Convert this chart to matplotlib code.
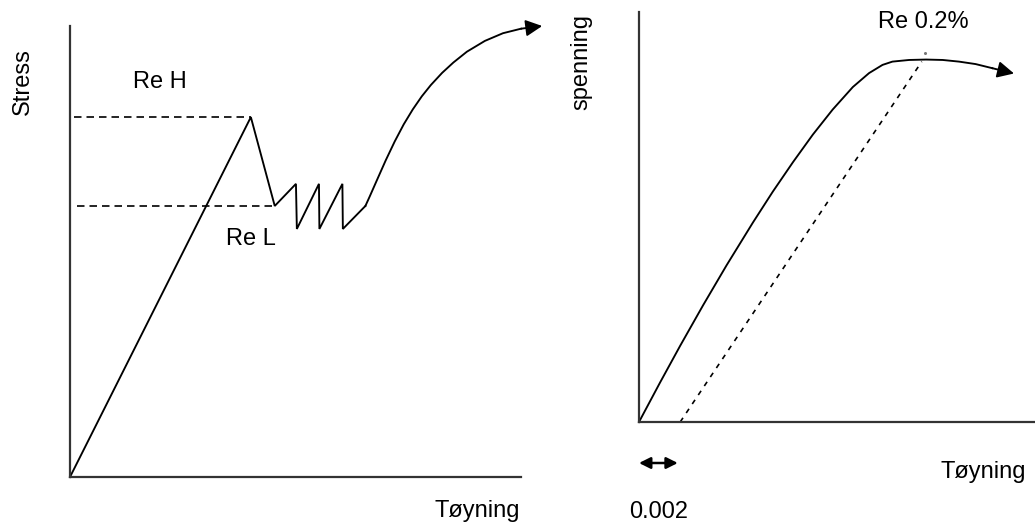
import matplotlib
matplotlib.use("Agg")
import matplotlib.pyplot as plt

plt.rcParams['font.family'] = ['Liberation Sans', 'DejaVu Sans']

W, H = 1035, 524

# ---- Left panel data (strain, stress), axis units 0..100 ----
left_strain = [0, 40.1, 45.4, 50.1, 50.3, 55.2, 55.3, 60.4, 60.5, 65.5]
left_stress = [0, 79.8, 60.1, 65.0, 55.0, 65.0, 55.0, 65.0, 55.0, 60.1]
# hardening curve after the yield plateau
hard_strain = [65.5, 66.5, 68.0, 70.0, 72.0, 74.0, 76.0, 78.0, 80.0, 82.5, 85.0, 88.0, 92.0, 96.0, 100.0, 104.7]
hard_stress = [60.1, 62.3, 65.7, 70.2, 74.4, 78.2, 81.5, 84.4, 86.9, 89.6, 91.9, 94.3, 96.7, 98.4, 99.4, 100.0]
ReH = 79.8
ReL = 60.1
ReH_strain = 40.1
ReL_strain = 45.4

# ---- Right panel data ----
right_strain = [0, 5.3, 10.4, 16.2, 22.1, 28.8, 33.8, 38.9, 43.9, 48.9, 54.0, 58.1, 61.5, 64.0,
                68.2, 72.5, 76.7, 80.8, 85.0, 89.2, 94.7]
right_stress = [0, 9.6, 18.6, 28.5, 38.2, 48.7, 56.2, 63.4, 70.1, 76.2, 81.7, 85.1, 87.1, 87.9,
                88.3, 88.4, 88.3, 87.9, 87.3, 86.3, 85.0]
offset_strain = [10.4, 71.4]
offset_stress = [0.0, 87.9]
offset_marker = (0.0, 9.8)  # 0.002 offset span

fig = plt.figure(figsize=(W / 100, H / 100), dpi=100)

def make_ax(x0, y_top, x1, y_bot):
    ax = fig.add_axes([x0 / W, 1 - y_bot / H, (x1 - x0) / W, (y_bot - y_top) / H])
    ax.set_xlim(0, 100)
    ax.set_ylim(0, 100)
    for s in ('top', 'right'):
        ax.spines[s].set_visible(False)
    for s in ('left', 'bottom'):
        ax.spines[s].set_linewidth(1.6)
        ax.spines[s].set_color('#333333')
    ax.set_xticks([])
    ax.set_yticks([])
    ax.patch.set_visible(False)
    return ax

fs = 17
lw = 1.35
dash = (0, (4.5, 3))

# Left panel
axL = make_ax(70, 26, 521, 477)
axL.plot(left_strain, left_stress, color='black', lw=lw, clip_on=False, solid_joinstyle='miter')
axL.plot(hard_strain[:-1], hard_stress[:-1], color='black', lw=lw, clip_on=False)
axL.annotate('', xy=(hard_strain[-1], hard_stress[-1]), xytext=(hard_strain[-2], hard_stress[-2]),
             arrowprops=dict(arrowstyle='-|>', mutation_scale=25, lw=lw, color='black',
                             shrinkA=0, shrinkB=0), annotation_clip=False)
axL.plot([0.8, ReH_strain], [ReH, ReH], color='black', lw=1.2, linestyle=dash)
axL.plot([1.5, ReL_strain], [ReL, ReL], color='black', lw=1.2, linestyle=dash)
axL.text(20, 87.6, 'Re H', fontsize=fs, ha='center', va='center')
axL.text(40.1, 52.8, 'Re L', fontsize=fs, ha='center', va='center')
axL.text(-10.4, 87.6, 'Stress', fontsize=fs, ha='center', va='center', rotation=90)
axL.text(90.3, -7.6, 'Tøyning', fontsize=fs, ha='center', va='center')

# Right panel
axR = make_ax(639, 12, 1035, 422)
axR.plot(right_strain[:-1], right_stress[:-1], color='black', lw=lw, clip_on=False)
axR.annotate('', xy=(right_strain[-1], right_stress[-1]), xytext=(right_strain[-2], right_stress[-2]),
             arrowprops=dict(arrowstyle='-|>', mutation_scale=25, lw=lw, color='black',
                             shrinkA=0, shrinkB=0), annotation_clip=False)
axR.plot(offset_strain, offset_stress, color='black', lw=1.2, linestyle=(0, (3, 3.5)))
axR.plot([72.2], [90.0], marker='o', ms=1.2, color='#777777', clip_on=False)
axR.annotate('', xy=(offset_marker[0], -10), xytext=(offset_marker[1], -10),
             arrowprops=dict(arrowstyle='<|-|>', mutation_scale=17, lw=1.8, color='black',
                             shrinkA=0, shrinkB=0), annotation_clip=False)
axR.text(71.7, 97.6, 'Re 0.2%', fontsize=fs, ha='center', va='center')
axR.text(-14.5, 87.9, 'spenning', fontsize=fs, ha='center', va='center', rotation=90)
axR.text(86.9, -12.1, 'Tøyning', fontsize=fs, ha='center', va='center')
axR.text(4.9, -21.9, '0.002', fontsize=fs, ha='center', va='center')

fig.savefig('out.png', dpi=100)
